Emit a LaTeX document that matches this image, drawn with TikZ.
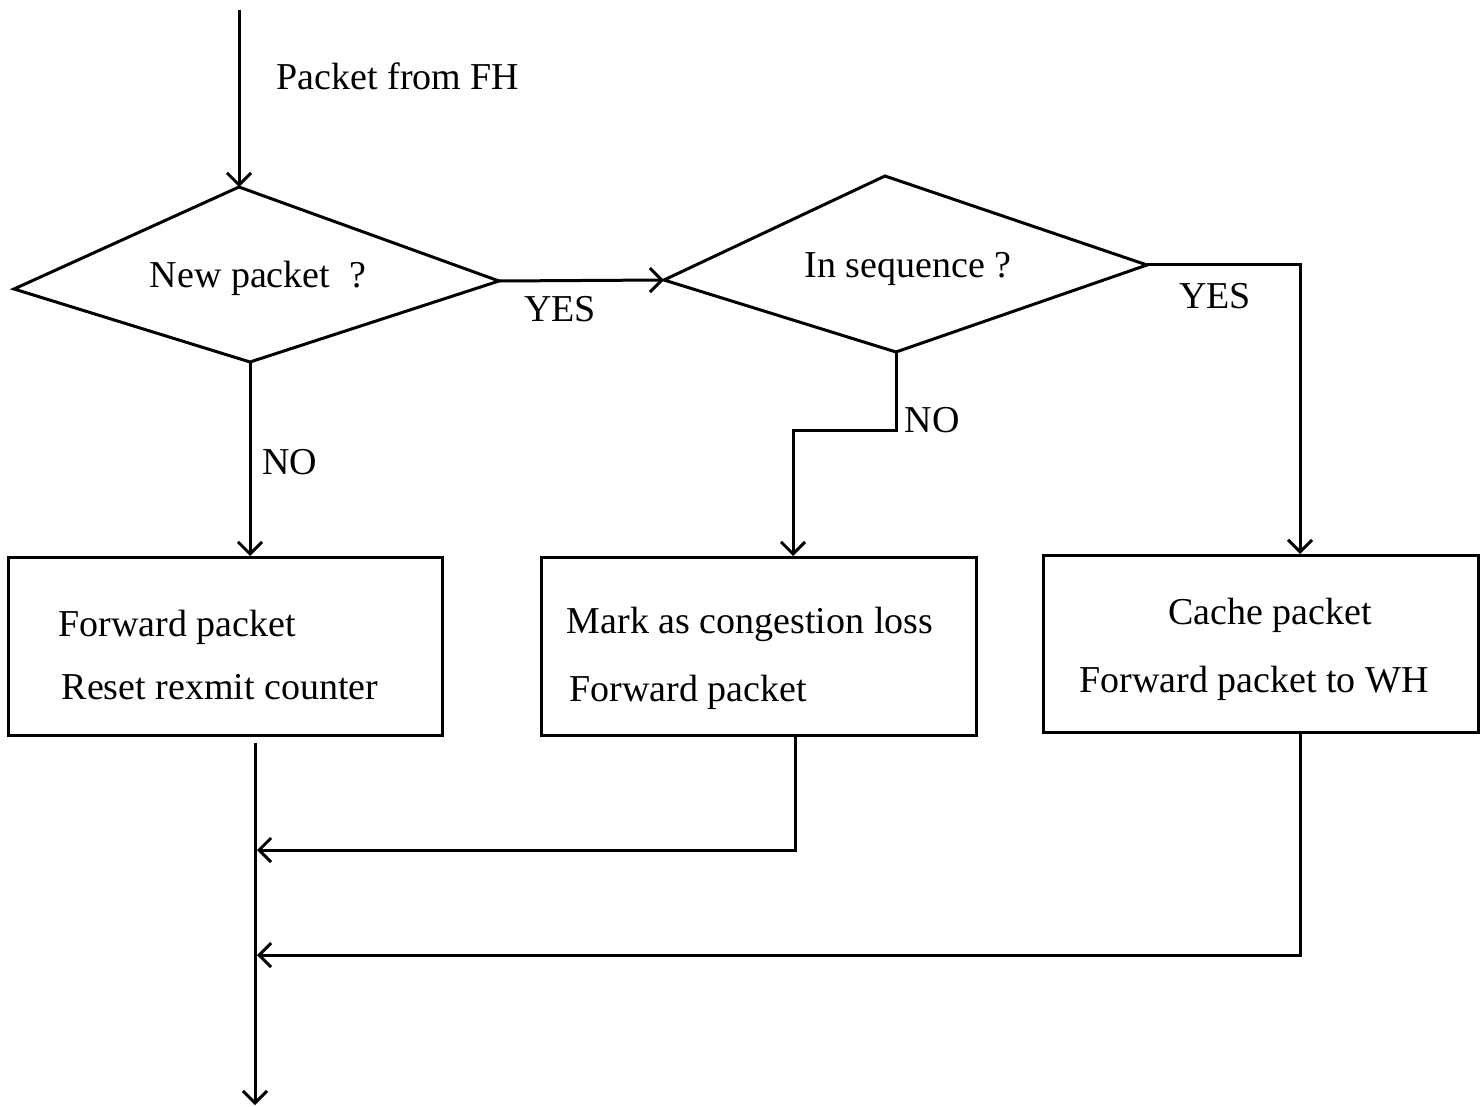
\documentclass[tikz,border=0pt]{standalone}
\usepackage{fontspec}
\setmainfont{Liberation Serif}
\usetikzlibrary{arrows.meta}
\begin{document}
\begin{tikzpicture}[x=1pt,y=-1pt,
  line width=3pt,
  arr/.style={-{Straight Barb[length=12pt,width=24pt]}},
  lbl/.style={anchor=base,inner sep=0pt,font=\fontsize{38}{44}\selectfont},
  box/.style={draw,rectangle,inner sep=0pt}]
\useasboundingbox (0,0) rectangle (1484,1107);
% diamond 1
\coordinate (d1n) at (239,187);
\coordinate (d1e) at (499,281);
\coordinate (d1s) at (250,362);
\coordinate (d1w) at (14,289);
\draw (d1n) -- (d1e) -- (d1s) -- (d1w) -- cycle;
\node[lbl] (q1) at (258,288) {New packet\ \ ?};
% diamond 2
\coordinate (d2n) at (885,176);
\coordinate (d2e) at (1147,265);
\coordinate (d2s) at (896,352);
\coordinate (d2w) at (664,280);
\draw (d2n) -- (d2e) -- (d2s) -- (d2w) -- cycle;
\node[lbl] (q2) at (908,278) {In sequence ?};
% boxes
\node[box,minimum width=434pt,minimum height=178pt] (b1) at (225,646) {};
\node[box,minimum width=435pt,minimum height=178pt] (b2) at (758.5,646) {};
\node[box,minimum width=435pt,minimum height=177pt] (b3) at (1260.5,643.5) {};
\node[lbl] (t11) at (177,636) {Forward packet};
\node[lbl] (t12) at (220,699) {Reset rexmit counter};
\node[lbl] (t21) at (750,633) {Mark as congestion loss};
\node[lbl] (t22) at (688,701) {Forward packet};
\node[lbl] (t31) at (1270,624) {Cache packet};
\node[lbl] (t32) at (1254,692) {Forward packet to WH};
% labels
\node[lbl] (pin) at (398,90) {Packet from FH};
\node[lbl] (y1) at (560,322) {YES};
\node[lbl] (y2) at (1215,309) {YES};
\node[lbl] (n2) at (932,432) {NO};
\node[lbl] (n1) at (290,474) {NO};
% connector points
\coordinate (in) at (239,10);
\coordinate (b1in) at (250,556);
\coordinate (b2in) at (793,556);
\coordinate (b3in) at (1300,554);
\coordinate (b1out) at (255,743);
\coordinate (b2out) at (795,735);
\coordinate (b3out) at (1300,732);
\coordinate (j1) at (257,850);
\coordinate (j2) at (257,955);
\coordinate (out) at (255,1105);
% connectors
\draw[arr] (in) -- (d1n);
\draw[arr] (d1e) -- (d2w);
\draw[arr] (d2e) -| (b3in);
\draw[arr] (d1s) -- (b1in);
\draw[arr] (d2s) -- ++(0,78) -| (b2in);
\draw[arr] (b1out) -- (out);
\draw[arr] (b2out) |- (j1);
\draw[arr] (b3out) |- (j2);
\end{tikzpicture}
\end{document}
